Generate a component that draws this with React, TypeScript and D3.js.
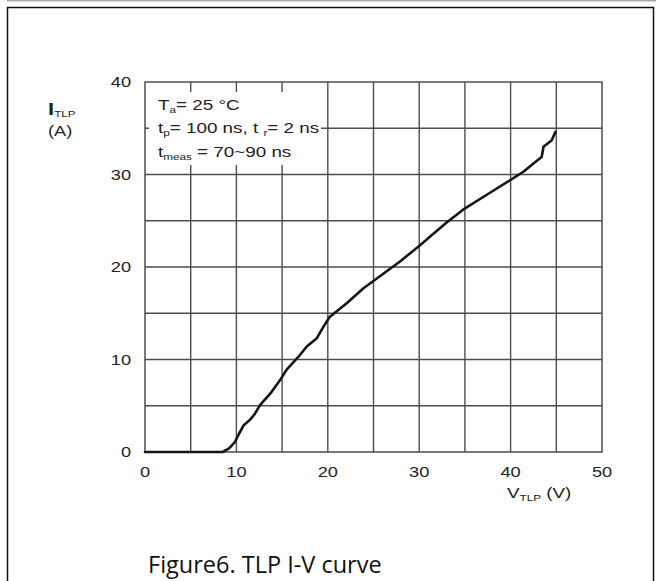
import React from 'react';
import * as d3 from 'd3';

// TLP I-V curve
const voltage = [0, 8.5, 9.2, 9.85, 10.3, 10.8, 11.5, 12.0, 12.6, 13.7, 14.8, 15.5, 16.8, 17.7, 18.8, 19.5, 20.2, 22.1, 23.9, 25.7, 27.9, 29.9, 31.2, 33.0, 34.8, 37.7, 40.3, 41.4, 42.5, 43.4, 43.6, 44.5, 44.9];
const current = [0, 0, 0.4, 1.1, 2.0, 2.9, 3.5, 4.1, 5.1, 6.3, 7.8, 8.9, 10.3, 11.4, 12.3, 13.5, 14.6, 16.1, 17.7, 19.0, 20.6, 22.2, 23.3, 24.8, 26.2, 28.0, 29.6, 30.3, 31.2, 31.9, 33.0, 33.7, 34.6];

const xTicks = [0, 10, 20, 30, 40, 50];
const yTicks = [0, 10, 20, 30, 40];
const xGrid = [5, 10, 15, 20, 25, 30, 35, 40, 45];
const yGrid = [5, 10, 15, 20, 25, 30, 35];

const W = 657;
const H = 581;
const plot = { left: 145, right: 602, top: 82, bottom: 452 };
const gridColor = '#4d4d4d';
const font = '"Liberation Sans", Arial, sans-serif';
const sx = 1.3; // the original figure is stretched sideways

const App: React.FC = () => {
  const x = d3.scaleLinear().domain([0, 50]).range([plot.left, plot.right]);
  const y = d3.scaleLinear().domain([0, 40]).range([plot.bottom, plot.top]);

  const points: [number, number][] = voltage.map((v, i) => [v, current[i]]);
  const line = d3.line<[number, number]>()
    .x(d => x(d[0]))
    .y(d => y(d[1]));

  // legend box masks part of the grid
  const box = { x0: 149, x1: 321, y0: 92, y1: 165 };

  return (
    <div style={{ position: 'fixed', left: 0, top: 0 }}>
      <svg width={W} height={H} style={{ display: 'block', background: '#fff' }}>
        {/* page frame */}
        <line x1={7} x2={656} y1={0.75} y2={0.75} stroke="#a8a8a8" strokeWidth={1.5} />
        <rect x={7.5} y={7.5} width={646} height={H + 10} fill="none" stroke="#111" strokeWidth={1.5} />

        {/* grid */}
        {xGrid.map(v => (
          <line key={'vx' + v} x1={x(v)} x2={x(v)} y1={plot.top} y2={plot.bottom}
            stroke={gridColor} strokeWidth={1.4} />
        ))}
        {yGrid.map(v => (
          <line key={'hy' + v} x1={plot.left} x2={plot.right} y1={y(v)} y2={y(v)}
            stroke={gridColor} strokeWidth={1.4} />
        ))}
        <rect x={box.x0} y={box.y0} width={box.x1 - box.x0} height={box.y1 - box.y0} fill="#fff" />
        <rect x={plot.left} y={plot.top} width={plot.right - plot.left} height={plot.bottom - plot.top}
          fill="none" stroke={gridColor} strokeWidth={1.5} />

        {/* curve */}
        <path d={line(points) || ''} fill="none" stroke="#151515" strokeWidth={2.6}
          strokeLinejoin="round" strokeLinecap="round" />

        {/* tick labels */}
        {yTicks.map(v => (
          <text key={'yt' + v} transform={`translate(131,${y(v) + 5}) scale(${sx},1)`}
            textAnchor="end" fontFamily={font} fontSize={14} fill="#222">{v}</text>
        ))}
        {xTicks.map(v => (
          <text key={'xt' + v} transform={`translate(${x(v)},${477}) scale(${sx},1)`}
            textAnchor="middle" fontFamily={font} fontSize={14} fill="#222">{v}</text>
        ))}

        {/* axis titles */}
        <text transform={`translate(48,115) scale(${sx},1)`} fontFamily={font} fill="#222">
          <tspan fontSize={17} fontWeight="bold">I</tspan>
          <tspan fontSize={9} dy={2}>TLP</tspan>
        </text>
        <text transform={`translate(48,136) scale(${sx},1)`} fontFamily={font} fontSize={14} fill="#222">(A)</text>
        <text transform={`translate(507,498) scale(${sx},1)`} fontFamily={font} fontSize={14.5} fill="#222">
          <tspan>V</tspan>
          <tspan fontSize={9} dy={3}>TLP</tspan>
          <tspan dy={-3}> (V)</tspan>
        </text>

        {/* conditions */}
        <g fontFamily={font} fontSize={14.5} fill="#222">
          <text transform={`translate(158,109.5) scale(${sx},1)`}>
            <tspan>T</tspan>
            <tspan fontSize={9} dy={3}>a</tspan>
            <tspan dy={-3}>= 25 °C</tspan>
          </text>
          <text transform={`translate(158,133) scale(${sx},1)`}>
            <tspan>t</tspan>
            <tspan fontSize={9} dy={3}>p</tspan>
            <tspan dy={-3}>= 100 ns, t </tspan>
            <tspan fontSize={9} dy={3}>r</tspan>
            <tspan dy={-3}>= 2 ns</tspan>
          </text>
          <text transform={`translate(158,157) scale(${sx},1)`}>
            <tspan>t</tspan>
            <tspan fontSize={9} dy={3}>meas</tspan>
            <tspan dy={-3}> = 70~90 ns</tspan>
          </text>
        </g>

        {/* caption */}
        <text x={148} y={573} fontFamily='"Open Sans", "Noto Sans", sans-serif' fontSize={23.5} fill="#111">
          Figure6. TLP I-V curve
        </text>
      </svg>
    </div>
  );
};

export default App;
